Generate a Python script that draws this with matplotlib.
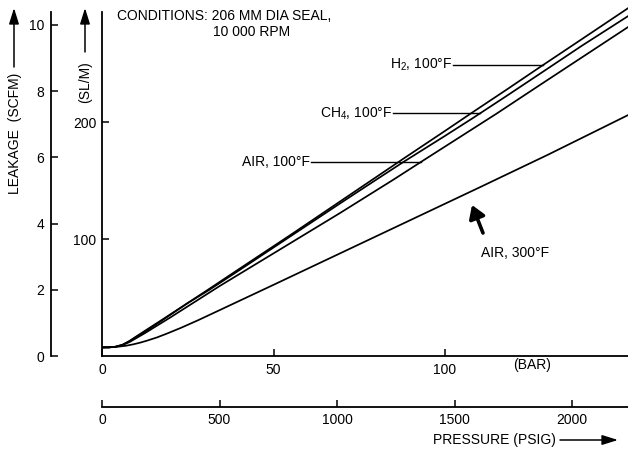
import numpy as np
import matplotlib
matplotlib.use("Agg")
import matplotlib.pyplot as plt
from matplotlib.patches import FancyArrowPatch

plt.rcParams['font.family'] = ['Liberation Sans', 'DejaVu Sans']
plt.rcParams['mathtext.fontset'] = 'custom'
plt.rcParams['mathtext.rm'] = 'Liberation Sans'
plt.rcParams['mathtext.it'] = 'Liberation Sans:italic'
plt.rcParams['mathtext.bf'] = 'Liberation Sans:bold'
plt.rcParams['font.size'] = 10

# ---------------- data (pressure in bar, leakage in SCFM) ----------------
h2_bar = [0, 2, 4, 6, 8, 10, 12.5, 17, 25, 31, 40, 55, 70, 80, 88, 100, 108, 118, 128, 140, 153.4]
h2_scfm = [0.26, 0.26, 0.28, 0.34, 0.45, 0.59, 0.76, 1.06, 1.60, 2.01, 2.63, 3.66, 4.71, 5.41,
           5.97, 6.80, 7.36, 8.05, 8.75, 9.58, 10.51]

ch4_bar = [0, 2, 4, 6, 8, 10, 12.5, 17, 25, 31, 40, 55, 70, 80, 88, 100, 108, 118, 128, 140, 153.4]
ch4_scfm = [0.26, 0.26, 0.28, 0.34, 0.45, 0.58, 0.73, 1.04, 1.60, 1.98, 2.59, 3.62, 4.65, 5.33,
            5.87, 6.65, 7.18, 7.86, 8.55, 9.38, 10.27]

air100_bar = [0, 2, 4, 6, 8, 10, 12.5, 20, 34.4, 50, 69.4, 85, 94, 115, 128, 153.4]
air100_scfm = [0.26, 0.26, 0.28, 0.33, 0.42, 0.54, 0.69, 1.17, 2.12, 3.10, 4.32, 5.33, 5.93,
               7.32, 8.21, 9.94]

air300_bar = [0, 3, 5, 7, 9, 11, 13, 16, 19, 23, 28, 35, 50, 70, 90, 110, 130, 153.4]
air300_scfm = [0.26, 0.27, 0.285, 0.31, 0.35, 0.40, 0.46, 0.56, 0.68, 0.85, 1.08, 1.42, 2.15,
               3.13, 4.11, 5.09, 6.08, 7.28]

scfm_ticks = [0, 2, 4, 6, 8, 10]
slm_ticks = [100, 200]
bar_ticks = [0, 50, 100]
psig_ticks = [0, 500, 1000, 1500, 2000]
SLM_PER_SCFM = 28.317

W, H = 628, 451
fig = plt.figure(figsize=(W / 100, H / 100), dpi=100)


def F(px, py):
    return (px / W, 1 - py / H)


# main axes: x in bar, y in SCFM ; left spine shows SL/M
ax = fig.add_axes([102 / W, 95 / H, 526 / W, 356 / H])
ax.patch.set_visible(False)
ax.set_xlim(0, 526 / 3.43)
ax.set_ylim(0, 356 / 33.1)
for s in ['top', 'right']:
    ax.spines[s].set_visible(False)
for s in ['left', 'bottom']:
    ax.spines[s].set_linewidth(1.3)
ax.spines['left'].set_bounds(0, (356 - 12) / 33.1)

ax.set_yticks([v / SLM_PER_SCFM for v in slm_ticks])
ax.set_yticklabels([str(v) for v in slm_ticks])
ax.set_xticks(bar_ticks)
ax.set_xticklabels([str(v) for v in bar_ticks])
ax.tick_params(axis='both', direction='in', length=5, width=1.1, labelsize=10)
ax.tick_params(axis='y', pad=4)
ax.tick_params(axis='x', pad=5)

lw = 1.25
ax.plot(h2_bar, h2_scfm, color='black', lw=lw)
ax.plot(ch4_bar, ch4_scfm, color='black', lw=lw)
ax.plot(air100_bar, air100_scfm, color='black', lw=lw)
ax.plot(air300_bar, air300_scfm, color='black', lw=lw)

# curve labels with leader lines
def leader(text, x_text_end, y, cx, cy):
    ax.text(x_text_end, y, text, ha='right', va='center', fontsize=10)
    xe = np.interp(y, cy, cx)
    ax.plot([x_text_end + 0.3, xe], [y, y], color='black', lw=1.0)

leader('H$_2$, 100°F', (452 - 102) / 3.43, (356 - 65) / 33.1, h2_bar, h2_scfm)
leader('CH$_4$, 100°F', (392 - 102) / 3.43, (356 - 113.3) / 33.1, ch4_bar, ch4_scfm)
leader('AIR, 100°F', (310 - 102) / 3.43, (356 - 162) / 33.1, air100_bar, air100_scfm)

ax.text((515.5 - 102) / 3.43, (356 - 253) / 33.1, 'AIR, 300°F', ha='center', va='center', fontsize=10)
ax.add_patch(FancyArrowPatch(((483 - 102) / 3.43, (356 - 233) / 33.1),
                             ((472 - 102) / 3.43, (356 - 205) / 33.1),
                             arrowstyle='-|>,head_length=0.55,head_width=0.35',
                             mutation_scale=14, lw=2.6, color='black',
                             shrinkA=0, shrinkB=0))

ax.text((117 - 102) / 3.43, (356 - 16) / 33.1, 'CONDITIONS: 206 MM DIA SEAL,',
        ha='left', va='center', fontsize=10)
ax.text((213 - 102) / 3.43, (356 - 32) / 33.1, '10 000 RPM',
        ha='left', va='center', fontsize=10)

# SCFM axis (far left)
axS = fig.add_axes([51 / W, 95 / H, 0.02, 356 / H])
axS.patch.set_visible(False)
axS.set_ylim(0, 356 / 33.1)
for s in ['top', 'right', 'bottom']:
    axS.spines[s].set_visible(False)
axS.spines['left'].set_linewidth(1.3)
axS.spines['left'].set_bounds(0, (356 - 12) / 33.1)
axS.set_xticks([])
axS.set_yticks(scfm_ticks)
axS.set_yticklabels([str(v) for v in scfm_ticks])
axS.tick_params(axis='y', direction='in', length=5, width=1.1, pad=5, labelsize=10)

# PSIG axis (bottom)
axP = fig.add_axes([102 / W, (H - 407) / H, 526 / W, 0.02])
axP.patch.set_visible(False)
axP.set_xlim(0, 526 / 0.235)
for s in ['top', 'right', 'left']:
    axP.spines[s].set_visible(False)
axP.spines['bottom'].set_linewidth(1.3)
axP.set_yticks([])
axP.set_xticks(psig_ticks)
axP.set_xticklabels([str(v) for v in psig_ticks])
axP.tick_params(axis='x', direction='in', length=5, width=1.1, pad=4, labelsize=10)

# axis titles and arrows
fig.text(*F(15, 133.5), 'LEAKAGE  (SCFM)', rotation=90, ha='center', va='center', fontsize=10)
fig.text(*F(85, 82.5), '(SL/M)', rotation=90, ha='center', va='center', fontsize=10)
fig.text(*F(532, 365), '(BAR)', ha='center', va='center', fontsize=10)
fig.text(*F(433, 440), 'PRESSURE (PSIG)', ha='left', va='center', fontsize=10)

def fig_arrow(p0, p1):
    fig.add_artist(FancyArrowPatch(F(*p0), F(*p1), transform=fig.transFigure,
                                   arrowstyle='-|>,head_length=0.8,head_width=0.25',
                                   mutation_scale=12, lw=1.1, color='black',
                                   shrinkA=0, shrinkB=0))

fig_arrow((14, 67), (14, 8))
fig_arrow((85, 52), (85, 8))
fig_arrow((560, 440), (618, 440))

fig.savefig('out.png', dpi=100)
